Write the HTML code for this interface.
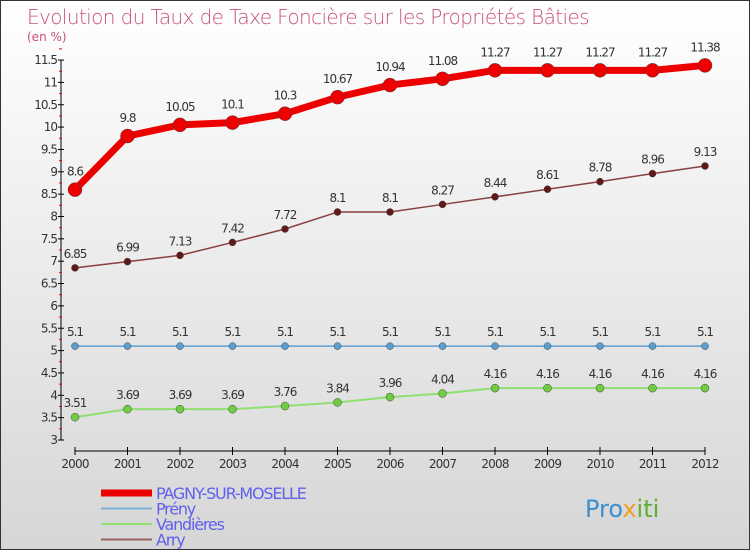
<!DOCTYPE html>
<html><head><meta charset="utf-8"><style>
body{margin:0}
#c{width:748px;height:548px;border:1px solid #333;background:linear-gradient(#ffffff,#d6d6d6);position:relative;font-family:"DejaVu Sans","Liberation Sans",sans-serif;overflow:hidden}
svg text{font-family:"DejaVu Sans","Liberation Sans",sans-serif}
</style></head><body>
<div id="c">
<svg id="s" width="748" height="548">
<text x="26" y="23" font-size="20" font-weight="300" fill="#c8507a" letter-spacing="-0.6">Evolution du Taux de Taxe Foncière sur les Propriétés Bâties</text>
<text x="26" y="40" font-size="12" fill="#c8507a">(en %)</text>
<g id="axes"></g><g id="series"></g><g id="legend"></g>
<text x="584" y="516" font-size="24" fill="#3a8fd0">Pro<tspan fill="#f0a020">x</tspan><tspan fill="#60b030">iti</tspan></text>
</svg></div>
<script>
const years=[2000,2001,2002,2003,2004,2005,2006,2007,2008,2009,2010,2011,2012];
const yTicks=[3,3.5,4,4.5,5,5.5,6,6.5,7,7.5,8,8.5,9,9.5,10,10.5,11,11.5];
const pagny=[8.6,9.8,10.05,10.1,10.3,10.67,10.94,11.08,11.27,11.27,11.27,11.27,11.38];
const preny=[5.1,5.1,5.1,5.1,5.1,5.1,5.1,5.1,5.1,5.1,5.1,5.1,5.1];
const vand=[3.51,3.69,3.69,3.69,3.76,3.84,3.96,4.04,4.16,4.16,4.16,4.16,4.16];
const arry=[6.85,6.99,7.13,7.42,7.72,8.1,8.1,8.27,8.44,8.61,8.78,8.96,9.13];
const NS="http://www.w3.org/2000/svg";
const X=i=>74+i*52.5, Y=v=>439-(v-3)*44.7;
function mk(t,a,p){const e=document.createElementNS(NS,t);for(const k in a)e.setAttribute(k,a[k]);(p||document.getElementById('s')).appendChild(e);return e;}
const ax=document.getElementById('axes');
let yl=mk('line',{x1:60,y1:Y(11.5),x2:60,y2:Y(3),stroke:'#000'},ax);


yTicks.forEach(v=>{
 mk('line',{x1:57,y1:Y(v),x2:63,y2:Y(v),stroke:'#000'},ax);
 mk('line',{x1:58,y1:Y(v+0.25),x2:61,y2:Y(v+0.25),stroke:'#e00'},ax);
 const t=mk('text',{x:56,y:Y(v)+4,'text-anchor':'end','font-size':12,fill:'#333','letter-spacing':'-1'},ax);
 t.textContent=v;
 
 
});
let xl=mk('line',{x1:74,y1:450,x2:X(12),y2:450,stroke:'#000'},ax);


years.forEach((y,i)=>{
 mk('line',{x1:X(i),y1:446,x2:X(i),y2:454,stroke:'#000'},ax);
 const t=mk('text',{x:X(i),y:467,'text-anchor':'middle','font-size':12,fill:'#333','letter-spacing':'-0.8'},ax);
 t.textContent=y;
 
 
});
const sg=document.getElementById('series');
function series(d,col,w,r,name,dot,off){
 const g=mk('g',{},sg);
 
 
 mk('polyline',{points:d.map((v,i)=>X(i)+','+Y(v)).join(' '),fill:'none',stroke:col,'stroke-width':w,'stroke-linejoin':'round'},g);
 d.forEach((v,i)=>{
  const c=mk('circle',{cx:X(i),cy:Y(v),r:r,fill:dot,stroke:'#444','stroke-width':0.5},g);
  
  
  const t=mk('text',{x:X(i),y:Y(v)-off,'text-anchor':'middle','font-size':12,fill:'#333','letter-spacing':'-1'},g);
  t.textContent=v;
  
  
 });
}
series(vand,'#90e070',2,4,'series-vandieres','#70cc40',10);
series(preny,'#5a9fd0',1.5,3.5,'series-preny','#5a9fd0',10);
series(arry,'#8a4040',1.5,3.5,'series-arry','#601818',10);
series(pagny,'#ee0000',7,7,'series-pagny','#ee0000',14);
const lg=document.getElementById('legend');
const leg=[['PAGNY-SUR-MOSELLE','#ee0000',7],['Prény','#7ab0d8',2],['Vandières','#90e070',2],['Arry','#9a6060',2]];
leg.forEach((l,i)=>{
 const y=492+i*15.5;
 const ln=mk('line',{x1:100,y1:y,x2:151,y2:y,stroke:l[1],'stroke-width':l[2]},lg);
 
 
 const t=mk('text',{x:155,y:y+6,'font-size':16,fill:'#6060ee','letter-spacing':'-1.2'},lg);
 t.textContent=l[0];
 
 
});
</script>
</body></html>
